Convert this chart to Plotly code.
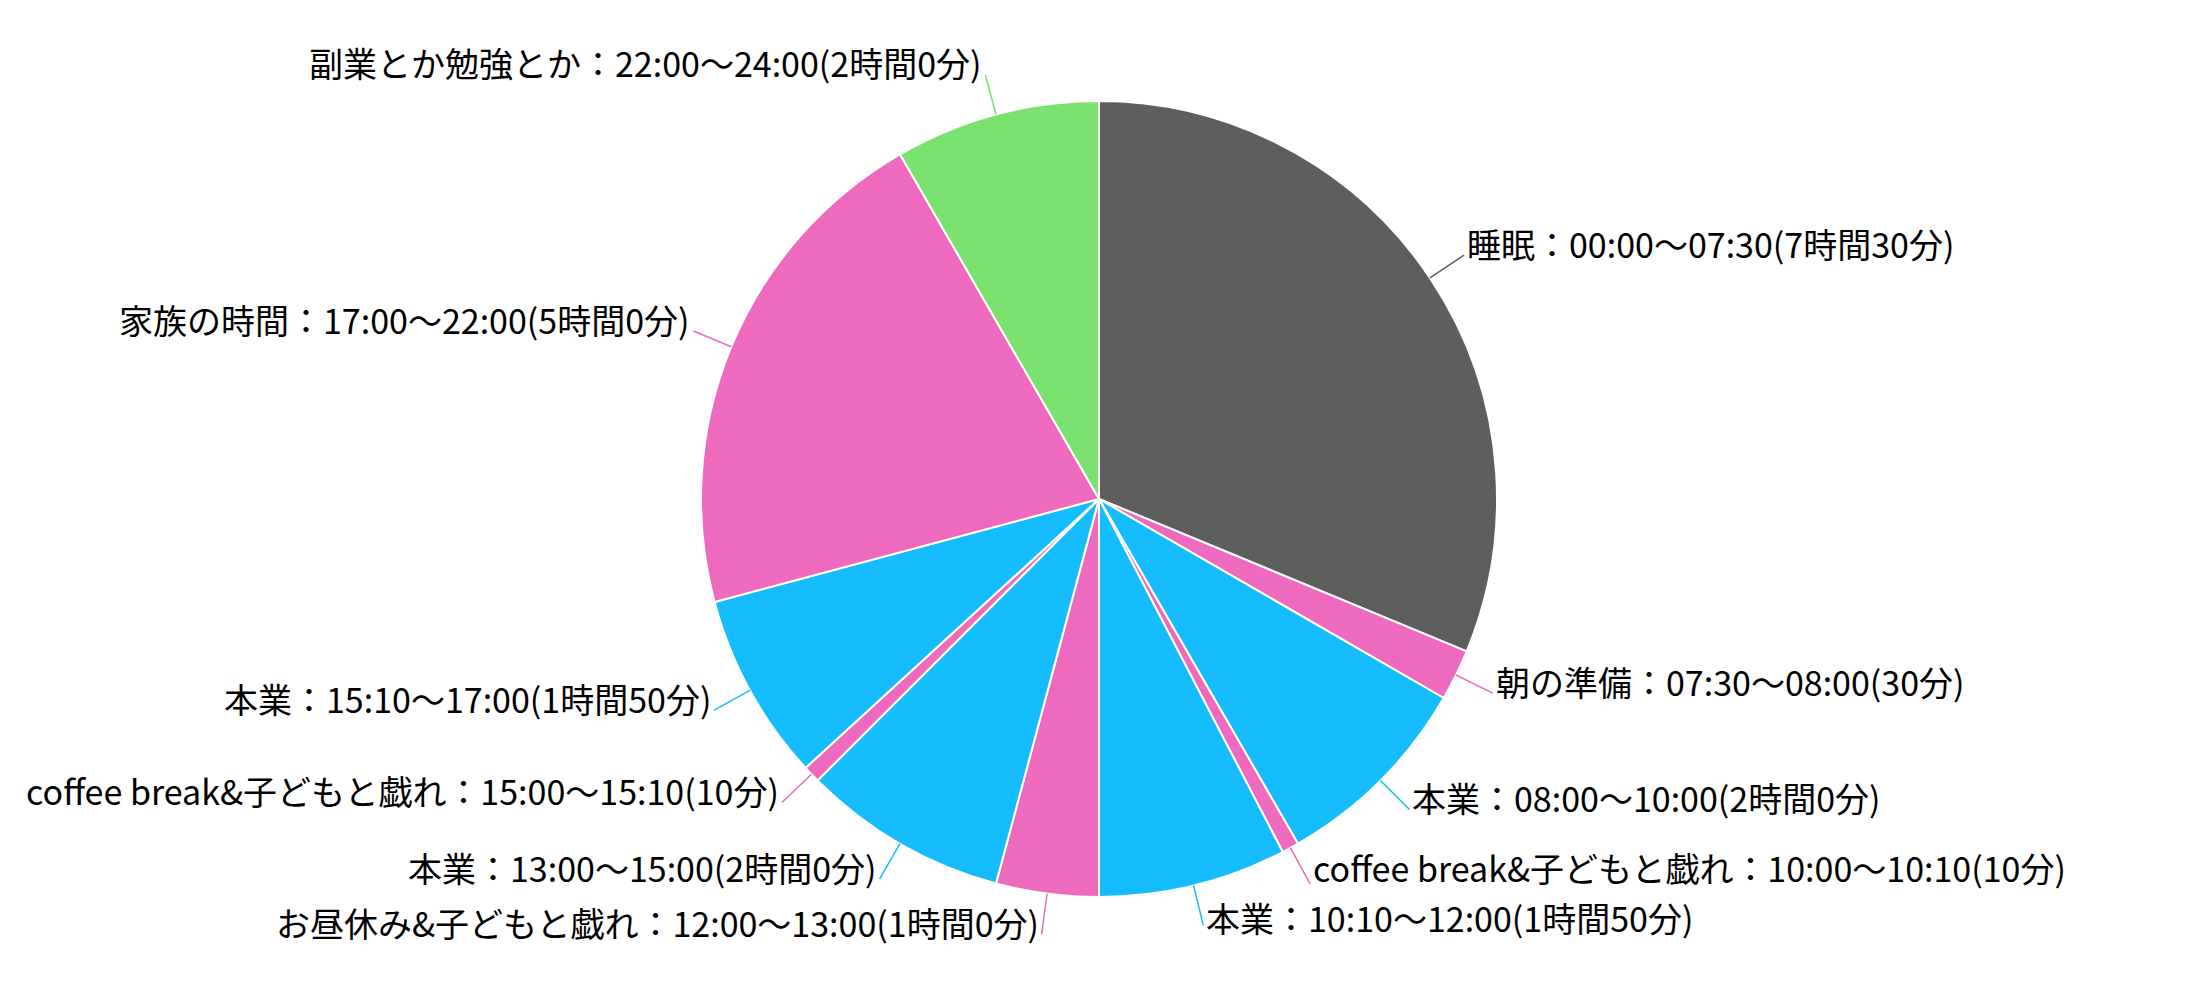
import math
import plotly.graph_objects as go

names = ["睡眠", "朝の準備", "本業", "coffee break&子どもと戯れ", "本業",
         "お昼休み&子どもと戯れ", "本業", "coffee break&子どもと戯れ", "本業",
         "家族の時間", "副業とか勉強とか"]
starts = ["00:00", "07:30", "08:00", "10:00", "10:10", "12:00", "13:00", "15:00", "15:10", "17:00", "22:00"]
ends = ["07:30", "08:00", "10:00", "10:10", "12:00", "13:00", "15:00", "15:10", "17:00", "22:00", "24:00"]
durations = ["7時間30分", "30分", "2時間0分", "10分", "1時間50分", "1時間0分",
             "2時間0分", "10分", "1時間50分", "5時間0分", "2時間0分"]
minutes = [450, 30, 120, 10, 110, 60, 120, 10, 110, 300, 120]
colors = ["#5e5e5e", "#ee6abe", "#15bdfe", "#ee6abe", "#15bdfe", "#ee6abe",
          "#15bdfe", "#ee6abe", "#15bdfe", "#ee6abe", "#7be270"]

labels = [f"{n}：{s}〜{e}({d})" for n, s, e, d in zip(names, starts, ends, durations)]

W, H = 2200, 1000
top_px, bot_px = 93, 889
cx = 1091
cy = (top_px + bot_px) / 2
R = (bot_px - top_px) / 2
R_out = R + 41
FONT = 34
MIN_GAP = 1.45 * FONT + 1

dom_half = cx / W

fig = go.Figure(go.Pie(
    labels=[f"{i}" for i in range(len(labels))],
    values=minutes,
    sort=False,
    direction="clockwise",
    rotation=0,
    marker=dict(colors=colors, line=dict(color="white", width=2)),
    textinfo="none",
    hoverinfo="skip",
    showlegend=False,
    domain=dict(x=[0, 2 * dom_half], y=[1 - bot_px / H, 1 - top_px / H]),
))

def px2paper(x, y):
    return x / W, 1 - y / H

total = sum(minutes)
cum = 0
items = []
shapes = []
for lab, v, col in zip(labels, minutes, colors):
    mid = (cum + v / 2) / total * 2 * math.pi
    cum += v
    s, c = math.sin(mid), math.cos(mid)
    x0, y0 = cx + R * s, cy - R * c
    x1, y1 = cx + R_out * s, cy - R_out * c
    p0 = px2paper(x0, y0)
    p1 = px2paper(x1, y1)
    shapes.append(dict(type="line", xref="paper", yref="paper",
                       x0=p0[0], y0=p0[1], x1=p1[0], y1=p1[1],
                       line=dict(color=col, width=1.5)))
    items.append(dict(lab=lab, x=x1, y=y1 - 12, right=s >= 0))

# small de-overlap of neighbouring label boxes on the same side
for side in (True, False):
    grp = sorted([it for it in items if it["right"] == side], key=lambda d: d["y"])
    for a, b in zip(grp, grp[1:]):
        gap = b["y"] - a["y"]
        if gap < MIN_GAP:
            d = (MIN_GAP - gap) / 2
            a["y"] -= d
            b["y"] += d

annotations = []
for it in items:
    px, py = px2paper(it["x"], it["y"])
    annotations.append(dict(
        x=px, y=py, xref="paper", yref="paper",
        text=it["lab"], showarrow=False,
        xanchor="left" if it["right"] else "right", yanchor="middle",
        xshift=2 if it["right"] else -2,
        borderpad=0,
        font=dict(family="Noto Sans CJK JP", size=FONT, color="#000000"),
    ))

fig.update_layout(
    width=W, height=H,
    margin=dict(l=0, r=0, t=0, b=0),
    paper_bgcolor="white",
    plot_bgcolor="white",
    shapes=shapes,
    annotations=annotations,
)

fig.write_html("out.html")
